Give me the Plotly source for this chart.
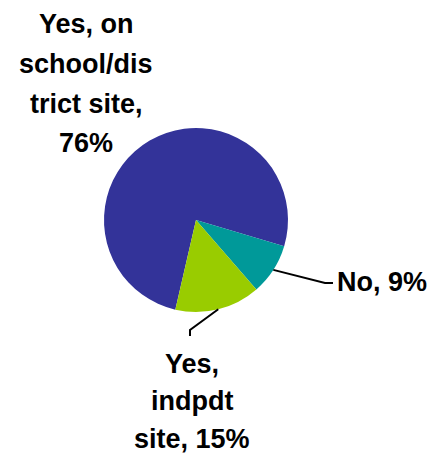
import math
import plotly.graph_objects as go

# Data
labels = ["Yes, on school/district site", "No", "Yes, indpdt site"]
values = [76, 9, 15]
colors = ["#333399", "#009999", "#99CC00"]
label_lines = [
    ["Yes, on", "school/dis", "trict site,", "76%"],
    ["No, 9%"],
    ["Yes,", "indpdt", "site, 15%"],
]

W, H = 432, 454
CX, CY, R = 196, 220, 92
ROT = 193  # start angle (deg clockwise from 12 o'clock)
FONT = 27

fig = go.Figure(go.Pie(
    labels=labels, values=values, sort=False, direction="clockwise",
    rotation=ROT, marker=dict(colors=colors, line=dict(width=0)),
    textinfo="none", hoverinfo="label+percent", showlegend=False,
    domain=dict(x=[(CX - R) / W, (CX + R) / W], y=[(H - CY - R) / H, (H - CY + R) / H]),
))

def px(x, y):
    return x / W, 1 - y / H

# leader line starts computed from slice mid-angles
total = sum(values)
starts = []
acc = ROT
for v in values:
    span = 360 * v / total
    mid = acc + span / 2
    a = math.radians(mid - 90)  # screen angle from 3 o'clock, clockwise
    starts.append((CX + R * math.cos(a), CY + R * math.sin(a)))
    acc += span

leader_paths = {1: [(325, 283), (333, 283)], 2: [(190, 330), (190, 336)]}
for i, pts in leader_paths.items():
    all_pts = [starts[i]] + pts
    path = "M " + " L ".join(f"{px(x, y)[0]:.4f},{px(x, y)[1]:.4f}" for x, y in all_pts)
    fig.add_shape(type="path", path=path, xref="paper", yref="paper",
                  line=dict(color="black", width=2))

# label line positions (center x, baselines in pixels)
label_pos = [
    (86, [33, 73, 113, 152]),
    (382, [291]),
    (192, [373, 410, 448]),
]
for lines, (cx, baselines) in zip(label_lines, label_pos):
    for txt, b in zip(lines, baselines):
        xx, yy = px(cx, b - 0.35 * FONT)
        fig.add_annotation(x=xx, y=yy, xref="paper", yref="paper", text=f"<b>{txt}</b>",
                           showarrow=False, xanchor="center", yanchor="middle",
                           font=dict(family="Liberation Sans, Arial", size=FONT, color="black"))

fig.update_layout(width=W, height=H, margin=dict(l=0, r=0, t=0, b=0),
                  paper_bgcolor="white", plot_bgcolor="white")
fig.write_html("out.html", config={"displayModeBar": False},
               post_script="document.body.style.margin='0';document.body.style.overflow='hidden';")
